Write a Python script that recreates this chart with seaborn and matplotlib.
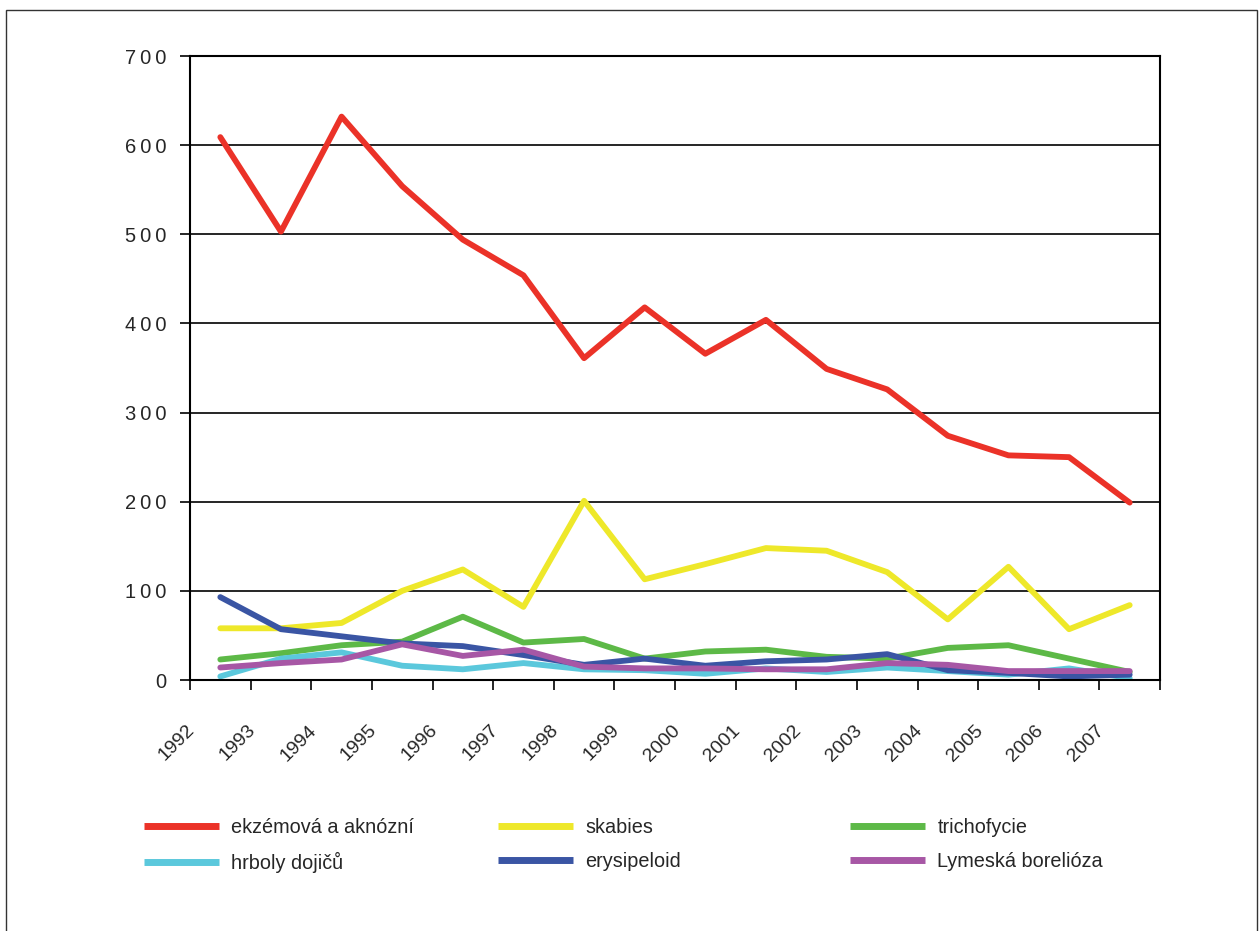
import numpy as np
import pandas as pd
import matplotlib
matplotlib.use('Agg')
import matplotlib.pyplot as plt
import matplotlib.transforms as mtransforms
from matplotlib.lines import Line2D
from matplotlib.patches import Rectangle
import seaborn as sns

# data
years = ['1992', '1993', '1994', '1995', '1996', '1997', '1998', '1999',
         '2000', '2001', '2002', '2003', '2004', '2005', '2006', '2007']
ekzemova = [609, 503, 632, 554, 494, 454, 361, 418, 366, 404, 349, 326, 274, 252, 250, 199]
skabies = [58, 58, 64, 100, 124, 82, 201, 113, 130, 148, 145, 121, 68, 127, 57, 84]
trichofycie = [23, 30, 39, 43, 71, 42, 46, 24, 32, 34, 26, 24, 36, 39, 24, 9]
hrboly = [4, 24, 31, 16, 12, 19, 12, 11, 7, 13, 9, 14, 10, 6, 13, 2]
erysipeloid = [93, 57, 49, 41, 38, 28, 17, 24, 16, 21, 23, 29, 11, 8, 4, 6]
lyme = [14, 19, 23, 40, 27, 34, 15, 13, 13, 12, 12, 19, 17, 10, 10, 10]

series_names = ['ekzémová a aknózní', 'skabies', 'trichofycie',
                'hrboly dojičů', 'erysipeloid', 'Lymeská borelióza']
series_vals = [ekzemova, skabies, trichofycie, hrboly, erysipeloid, lyme]
colors = ['#EB3228', '#EEE82A', '#5DB947', '#5BC8DC', '#3A55A4', '#A757A5']
palette = dict(zip(series_names, colors))

rows = []
for name, vals in zip(series_names, series_vals):
    for i, v in enumerate(vals):
        rows.append({'pos': i, 'value': v, 'nemoc': name})
df = pd.DataFrame(rows)

sns.set_style('white')
plt.rcParams['font.family'] = ['Liberation Sans', 'DejaVu Sans']

fig = plt.figure(figsize=(12.6, 9.31), dpi=100)
ax = fig.add_axes([190 / 1260, 1 - 680 / 931, 970 / 1260, 624 / 931])

sns.lineplot(data=df, x='pos', y='value', hue='nemoc', hue_order=series_names,
             palette=palette, linewidth=4.2, legend=False, sort=False, ax=ax)

ax.set_xlim(-0.5, len(years) - 0.5)
ax.set_ylim(0, 700)
ax.set_xlabel('')
ax.set_ylabel('')

# y axis
ax.set_yticks(range(0, 701, 100))
ax.set_yticklabels(['\u2009'.join(str(v)) for v in range(0, 701, 100)], fontsize=14.5)
ax.yaxis.grid(True, color='black', linewidth=1.2)
ax.set_axisbelow(True)
ax.tick_params(axis='y', direction='out', length=7, width=1.2, color='black', pad=10, left=True)

# x axis: ticks at category boundaries, labels rotated
bounds = np.arange(-0.5, len(years), 1.0)
ax.set_xticks(bounds)
ax.set_xticklabels(years + [''], rotation=45, ha='right', va='top', fontsize=14)
ax.tick_params(axis='x', direction='out', length=7, width=1.2, color='black', pad=23, bottom=True)
offset = mtransforms.ScaledTranslation(6 / 72, 0, fig.dpi_scale_trans)
for lab in ax.get_xticklabels():
    lab.set_transform(lab.get_transform() + offset)

for s in ['left', 'right', 'top', 'bottom']:
    ax.spines[s].set_visible(True)
    ax.spines[s].set_color('black')
    ax.spines[s].set_linewidth(1.5)

# legend: three columns placed by hand
col_x = [136 / 1260, 490 / 1260, 842 / 1260]
for c in range(3):
    idx = [c, c + 3]
    handles = [Line2D([0], [0], color=colors[k], linewidth=5, solid_capstyle='butt') for k in idx]
    labels = [series_names[k] for k in idx]
    fig.legend(handles, labels, loc='upper left', bbox_to_anchor=(col_x[c], 1 - 810 / 931),
               frameon=False, fontsize=14.3, handlelength=3.8, handletextpad=0.6,
               labelspacing=0.75, borderaxespad=0)

# outer frame
fig.patches.append(Rectangle((6 / 1260, -0.05), 1251 / 1260, 1.05 - 10 / 931,
                             transform=fig.transFigure, fill=False,
                             edgecolor='#333333', linewidth=1))

fig.savefig('out.png', dpi=100)
